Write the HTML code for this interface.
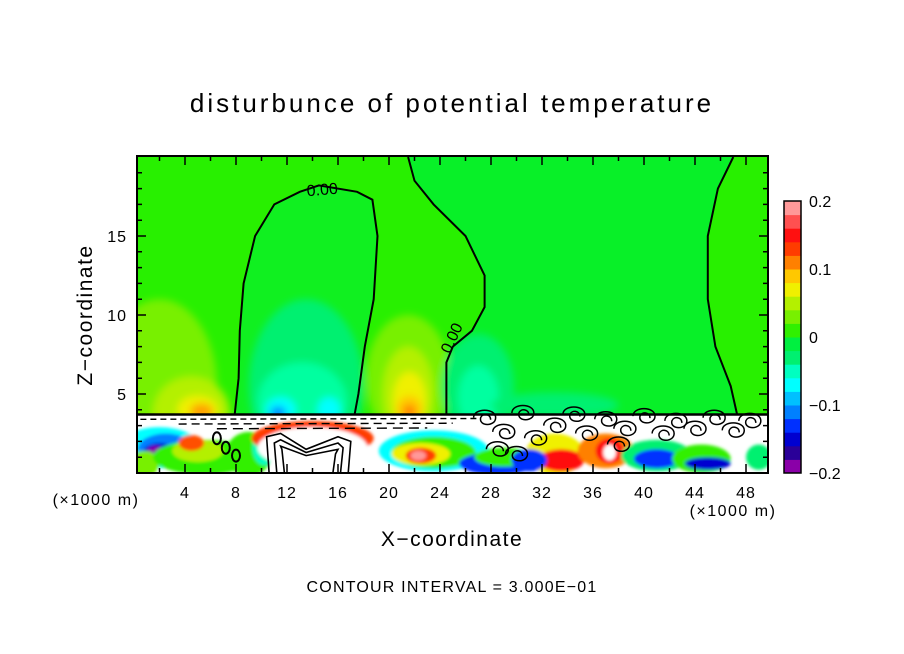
<!DOCTYPE html>
<html><head><meta charset="utf-8"><style>
body{margin:0;background:#fff;}
svg{display:block;font-family:"Liberation Sans",sans-serif;}
</style></head><body>
<svg id="chart" width="904" height="654" viewBox="0 0 904 654">
<defs>
<filter id="bl" x="-30%" y="-30%" width="160%" height="160%"><feGaussianBlur stdDeviation="4"/></filter>
<filter id="bl2" x="-30%" y="-30%" width="160%" height="160%"><feGaussianBlur stdDeviation="1.5"/></filter>
<clipPath id="clipTop"><rect x="137" y="156" width="631" height="259"/></clipPath>
<clipPath id="clipBot"><rect x="137" y="415" width="631" height="58"/></clipPath>
<clipPath id="clipAll"><rect x="137" y="156" width="631" height="317"/></clipPath>
</defs>
<text x="452" y="112" text-anchor="middle" font-size="26" letter-spacing="3">disturbunce of potential temperature</text>
<g id="plot"></g>
<g id="axes"></g>
<g id="cbar"></g>
<text x="452" y="546" text-anchor="middle" font-size="21" letter-spacing="1.5">X−coordinate</text>
<text transform="translate(92,315) rotate(-90)" text-anchor="middle" font-size="21" letter-spacing="1.5">Z−coordinate</text>
<text x="96" y="505" text-anchor="middle" font-size="16" letter-spacing="1.5">(×1000 m)</text>
<text x="733" y="516" text-anchor="middle" font-size="16" letter-spacing="1.5">(×1000 m)</text>
<text x="452" y="592" text-anchor="middle" font-size="16" letter-spacing="1.2">CONTOUR INTERVAL = 3.000E−01</text>
</svg>
<script>
const xTicks=[4,8,12,16,20,24,28,32,36,40,44,48];
const yTicks=[5,10,15];
const cbarColors=["#8a00a8","#2a0098","#0000d0","#0030ff","#0080ff","#00c0ff","#00ffff","#00ffc0","#00f070","#00f040","#30f000","#78f000","#b4f000","#f0f000","#ffc800","#ff8000","#ff3c00","#ff1010","#ff5050","#ff9999"];
const cbarLabels=[-0.2,-0.1,0,0.1,0.2];
const cbarLabelText=["−0.2","−0.1","0","0.1","0.2"];
// contour lines (km, z)
const contour1=[[7.9,3.7],[8.2,6],[8.3,9],[8.6,12],[9.5,15],[11,17],[13,17.8],[14.5,18.2],[17.5,17.8],[18.7,17.3],[19.1,15],[18.8,11],[18.1,8],[17.6,5],[17.3,3.7]];
const contour2=[[21.5,20],[22,18.5],[23.5,17],[26,15],[27.5,12.5],[27.5,10.5],[26.5,9],[25,8],[24.5,7],[24.5,3.7]];
const contour3=[[47,20],[45.8,18],[45,15],[45,11],[45.6,8],[46.8,5.5],[47.3,3.7]];
// fill blobs: [km, z, rx_km, rz, colour]
const blobsTop=[
 [2,5.5,4.5,5.5,"#78f000"],[4.5,3.8,3,2.3,"#b4f000"],[5,4,1.6,0.9,"#f0f000"],[5.3,3.9,0.9,0.5,"#ffa000"],
 [13.5,5.5,4.5,5.5,"#00f070"],[13.2,4.5,3.5,2.5,"#00ffa0"],[11.5,4,1.2,0.8,"#00ffff"],[11.3,3.8,0.6,0.4,"#0080ff"],[15.3,4,0.9,0.8,"#00ffff"],
 [21.5,6,3.3,4,"#78f000"],[21.5,5,2,3,"#b4f000"],[21.6,4.6,1.3,1.8,"#f0f000"],[21.6,4,1,0.9,"#ffc800"],[21.6,3.9,0.5,0.4,"#ff8000"],
 [27,5.5,2.8,3.3,"#00f070"],[27,4.8,1.6,2,"#00ffa0"],[33,4.3,5,0.8,"#00f070"]
];
const blobsBot=[
 [2,1.6,3.2,1.3,"#00ffff"],[2.5,1.5,2.2,1,"#0080ff"],[2,1.3,1.3,0.6,"#0000d0"],[1.7,1.3,0.7,0.4,"#8a00a8"],
 [0.8,0.6,1.2,0.8,"#78f000"],[5.5,1,4,1.1,"#30f000"],[5,1.4,2,0.7,"#b4f000"],[4.5,1.9,1,0.5,"#ff5000"],
 [9,1.2,1.8,1.4,"#30f000"],[10.2,1.6,0.9,1.1,"#00ffc0"],
 [14,2.2,4.8,1.1,"#ff3c00"],[14,1.6,4.3,1.3,"#ffffff"],
 [23.5,1.4,4.3,1.3,"#00ffff"],[23.5,1.3,3.3,1,"#30f000"],[22.5,1.2,2.3,0.7,"#f0f000"],[22.5,1.1,1.2,0.5,"#ff3c00"],[22.3,1.1,0.6,0.3,"#ff9999"],
 [28.5,0.6,3,0.7,"#0030ff"],[29,1,2.3,0.6,"#30f000"],
 [33,1.2,2.3,1.3,"#f0f000"],[33.5,0.8,1.8,0.7,"#ff1010"],[31,0.8,1.4,0.7,"#0030ff"],
 [37,1.4,2.2,1.1,"#ff8000"],[37.3,1.4,1.1,0.8,"#ff1010"],[37.3,1.3,0.5,0.5,"#ffffff"],
 [41,1.1,2.8,1,"#00f070"],[41,0.9,1.8,0.6,"#0030ff"],
 [44.5,0.9,2.3,0.9,"#30f000"],[45,0.6,1.8,0.4,"#0000d0"],[49,1,1,0.8,"#00f070"]
];
const NS="http://www.w3.org/2000/svg";
const X0=134, KX=12.75, Y0=473, KZ=15.8;
function sx(k){return X0+k*KX;}
function sy(z){return Y0-z*KZ;}
function mk(tag,attrs,parent){const e=document.createElementNS(NS,tag);for(const k in attrs)e.setAttribute(k,attrs[k]);parent.appendChild(e);return e;}
function pathOf(pts){let d="";pts.forEach((p,i)=>{d+=(i?"L":"M")+sx(p[0]).toFixed(1)+","+sy(p[1]).toFixed(1);});return d;}
const plot=document.getElementById('plot');
const gTop=mk('g',{'clip-path':'url(#clipTop)'},plot);
let r=mk('rect',{x:137,y:156,width:631,height:259,fill:'#28f000'},gTop);


let d1=mk('path',{d:pathOf(contour1)+"Z",fill:'#10f020'},gTop);


let d2=mk('path',{d:pathOf(contour2.concat([[47.3,3.7]]).concat(contour3.slice().reverse()))+"Z",fill:'#08f028'},gTop);


const gb=mk('g',{filter:'url(#bl)'},gTop);
blobsTop.forEach(b=>{
 const e=mk('ellipse',{cx:sx(b[0]),cy:sy(b[1]),rx:b[2]*KX,ry:b[3]*KZ,fill:b[4]},gb);
 
 
});
const gBot=mk('g',{'clip-path':'url(#clipBot)'},plot);
let wb=mk('rect',{x:137,y:415,width:631,height:58,fill:'#ffffff'},gBot);


const gbb=mk('g',{filter:'url(#bl2)'},gBot);
blobsBot.forEach(b=>{
 const e=mk('ellipse',{cx:sx(b[0]),cy:sy(b[1]),rx:b[2]*KX,ry:b[3]*KZ,fill:b[4]},gbb);
 
 
});
const gl=mk('g',{'clip-path':'url(#clipAll)',fill:'none',stroke:'#000'},plot);
[3.4,3.1,2.8].forEach((z,i)=>{
 const e=mk('path',{d:`M${sx(0.5+i*3)},${sy(z)} L${sx(27-i*2)},${sy(z+0.05)}`,'stroke-width':1.4,'stroke-dasharray':(6+i*2)+','+(4+i)},gl);
 
 
});
[contour1,contour2,contour3].forEach(c=>{
 const e=mk('path',{d:pathOf(c),'stroke-width':2},gl);
 
 
});
let hl=mk('path',{d:`M137,${sy(3.7)}H768`,'stroke-width':2.5},gl);


[[0,0],[0.6,0.4],[1.2,0.8]].forEach(o=>{
 const pts=[[10.6+o[0],0],[10.4+o[0],2.3-o[1]],[11.5,2.5-o[1]],[13.5,1.5-o[1]/2],[16,2.3-o[1]],[17-o[0],2-o[1]],[16.8-o[0],0]];
 const e=mk('path',{d:pathOf(pts),'stroke-width':1.6},gl);
 
 
});
const squiggles=[[27.5,3.5],[29,2.6],[30.5,3.8],[31.5,2.2],[33,3],[34.5,3.7],[35.5,2.5],[37,3.4],[38.5,2.8],[40,3.6],[41.5,2.5],[42.5,3.3],[44,2.8],[45.5,3.5],[47,2.7],[48.3,3.3],[28.5,1.5],[30,1.2],[38,1.8]];
squiggles.forEach(s=>{
 const cx=sx(s[0]),cy=sy(s[1]);
 const e=mk('path',{d:`M${cx-11},${cy} C${cx-11},${cy-10} ${cx+11},${cy-10} ${cx+11},${cy} C${cx+11},${cy+9} ${cx-6},${cy+9} ${cx-4},${cy} C${cx-2},${cy-5} ${cx+6},${cy-4} ${cx+6},${cy+2}`,'stroke-width':1.5},gl);
 
 
});
[[6.5,2.2],[7.2,1.6],[8,1.1]].forEach(s=>{
 const e=mk('ellipse',{cx:sx(s[0]),cy:sy(s[1]),rx:4,ry:6,'stroke-width':2},gl);
 
 
});
let lb1=mk('text',{x:sx(14.8),y:sy(17.6),'text-anchor':'middle','font-size':16,transform:`rotate(-5 ${sx(14.8)} ${sy(17.6)})`},plot);
lb1.textContent='0.00';


let lb2=mk('text',{x:sx(25.3),y:sy(8.4),'text-anchor':'middle','font-size':16,transform:`rotate(-65 ${sx(25.3)} ${sy(8.4)})`},plot);
lb2.textContent='0.00';


const axes=document.getElementById('axes');
let fr=mk('rect',{x:137,y:156,width:631,height:317,fill:'none',stroke:'#000','stroke-width':2},axes);


for(let k=2;k<=49;k+=2){
 const major=k%4===0, L=major?9:5;
 const t=mk('path',{d:`M${sx(k)},473v${-L}M${sx(k)},156v${L}`,stroke:'#000','stroke-width':1.5},axes);
 
 
}
for(let z=1;z<=19;z++){
 const major=z%5===0, L=major?9:5;
 const t=mk('path',{d:`M137,${sy(z)}h${L}M768,${sy(z)}h${-L}`,stroke:'#000','stroke-width':1.5},axes);
 
 
}
xTicks.forEach(k=>{
 const t=mk('text',{x:sx(k),y:498,'text-anchor':'middle','font-size':16,'letter-spacing':1},axes);
 t.textContent=k;
 
 
});
yTicks.forEach(z=>{
 const t=mk('text',{x:127,y:sy(z)+6,'text-anchor':'end','font-size':16,'letter-spacing':1},axes);
 t.textContent=z;
 
 
});
const cb=document.getElementById('cbar');
const CB_TOP=201, CB_BOT=473, CBX=784, CBW=17;
const step=(CB_BOT-CB_TOP)/cbarColors.length;
cbarColors.forEach((c,i)=>{
 const e=mk('rect',{x:CBX,y:CB_BOT-(i+1)*step,width:CBW,height:step+0.5,fill:c},cb);
 
 
});
let cbf=mk('rect',{x:CBX,y:CB_TOP,width:CBW,height:CB_BOT-CB_TOP,fill:'none',stroke:'#000','stroke-width':1.5},cb);


cbarLabels.forEach((v,i)=>{
 const y=CB_BOT-(v+0.2)/0.4*(CB_BOT-CB_TOP);
 const t=mk('text',{x:809,y:y+6,'font-size':16},cb);
 t.textContent=cbarLabelText[i];
 
 
});
</script>
</body></html>
